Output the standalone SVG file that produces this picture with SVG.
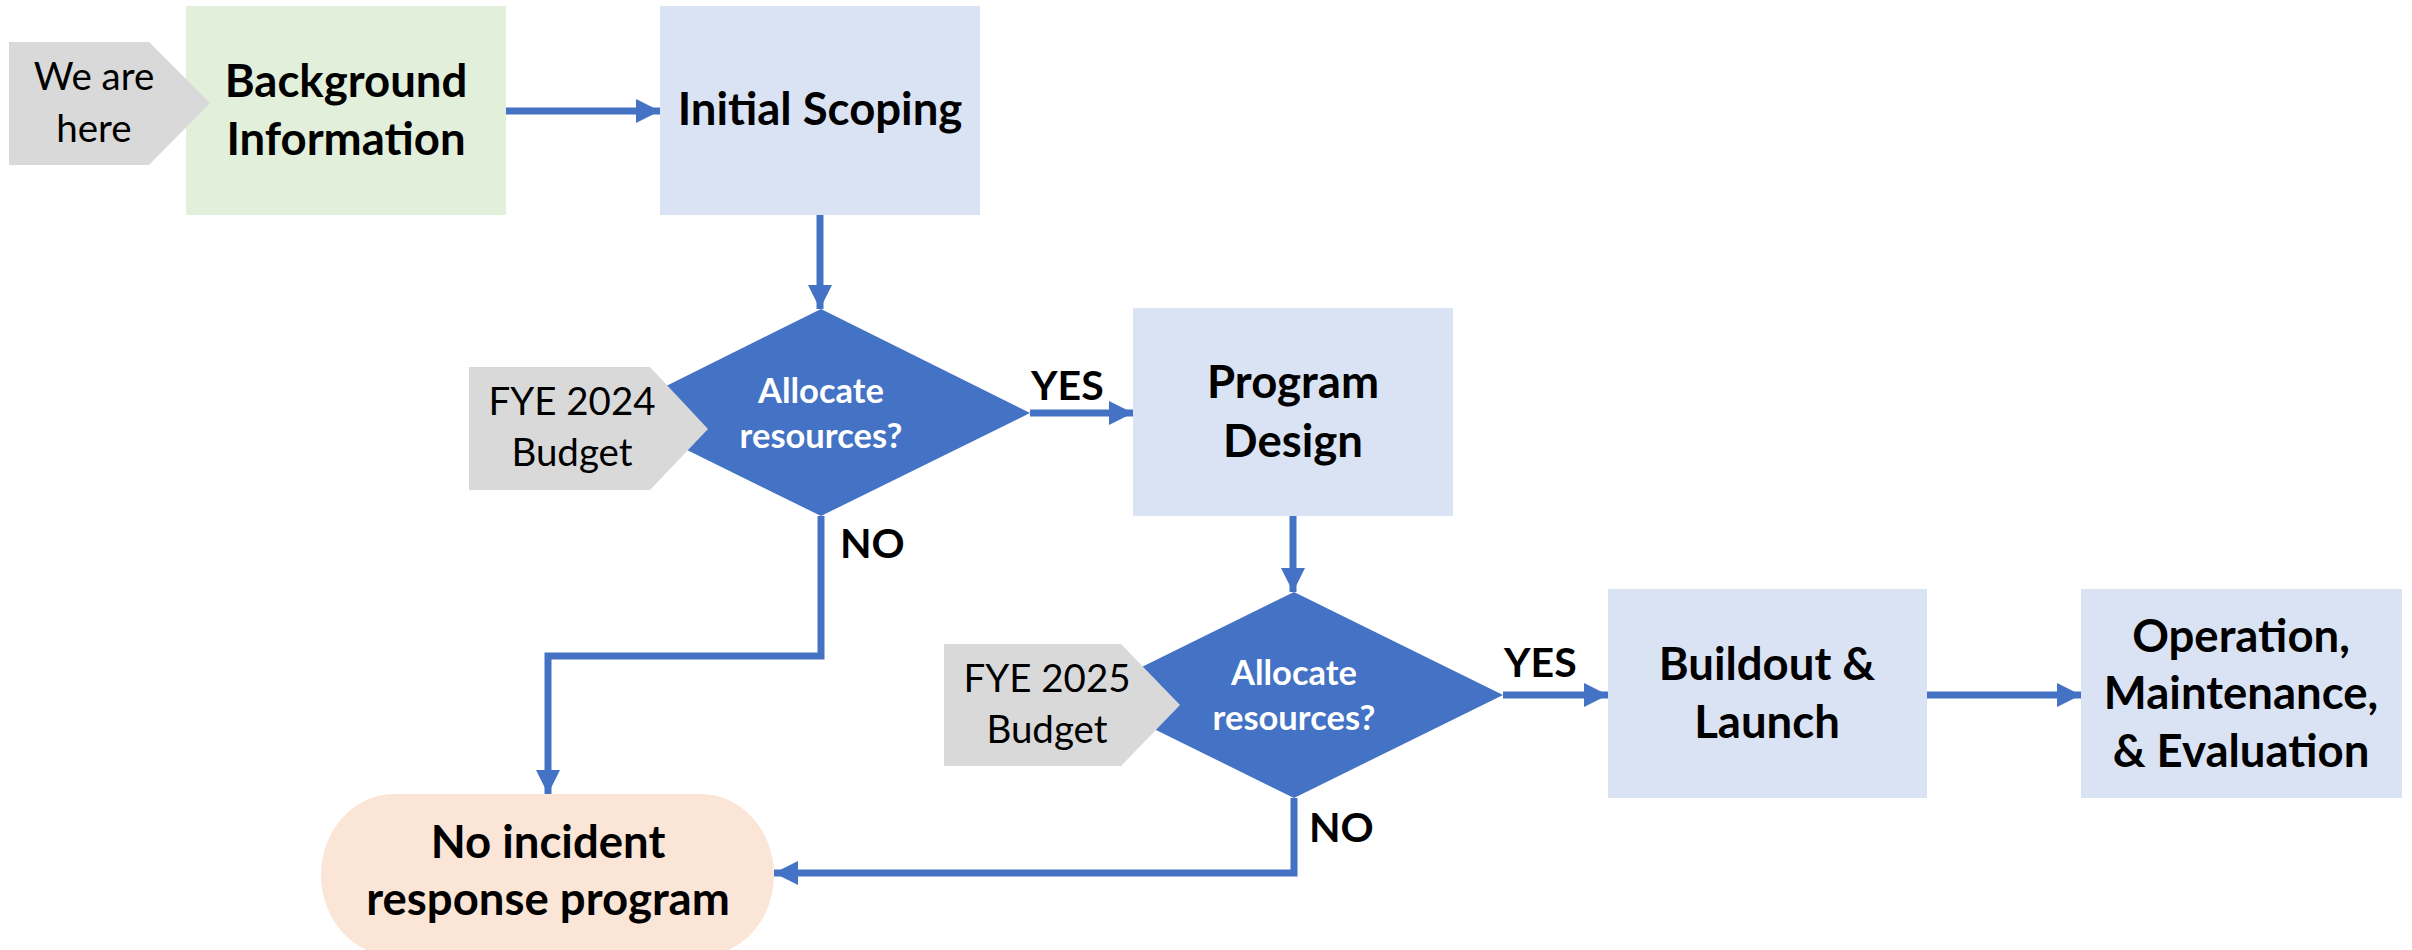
<svg xmlns="http://www.w3.org/2000/svg" width="2412" height="950" viewBox="0 0 2412 950">
<defs>
<style>
.t{font-family:Lato,"Liberation Sans",sans-serif;text-anchor:middle;}
.b{font-weight:bold;font-size:45.5px;fill:#000;}
.g{font-size:38.5px;fill:#000;}
.d{font-weight:bold;font-size:34.5px;fill:#fff;}
.lbl{font-weight:bold;font-size:41px;fill:#000;font-family:Lato,"Liberation Sans",sans-serif;}
.c{fill:none;stroke:#4472C4;stroke-width:7;marker-end:url(#ah);}
</style>
<marker id="ah" markerUnits="userSpaceOnUse" markerWidth="24" markerHeight="24" refX="24" refY="12" orient="auto" viewBox="0 0 24 24">
<path d="M0,0 L24,12 L0,24 z" fill="#4472C4"/>
</marker>
</defs>
<rect width="2412" height="950" fill="#fff"/>

<g id="background">
<rect x="186" y="6" width="320" height="209" fill="#E2EFDA"/>
<text class="t b" x="346" y="97">Background</text>
<text class="t b" x="346" y="155">Information</text>
</g>
<g id="we-are-here">
<polygon points="9,42 149,42 210,103 149,165 9,165" fill="#D9D9D9"/>
<text class="t g" x="94" y="90">We are</text>
<text class="t g" x="94" y="142">here</text>
</g>
<g id="initial-scoping">
<rect x="660" y="6" width="320" height="209" fill="#DAE3F3"/>
<text class="t b" x="820" y="125">Initial Scoping</text>
</g>
<g id="decision1">
<polygon points="821,309 1030,413 821,516 612,413" fill="#4472C4"/>
<text class="t d" x="821" y="403">Allocate</text>
<text class="t d" x="821" y="448">resources?</text>
</g>
<g id="fye2024">
<polygon points="469,367 650,367 708,429 650,490 469,490" fill="#D9D9D9"/>
<text class="t g" x="572" y="415">FYE 2024</text>
<text class="t g" x="572" y="466">Budget</text>
</g>
<g id="program-design">
<rect x="1133" y="308" width="320" height="208" fill="#DAE3F3"/>
<text class="t b" x="1293" y="398">Program</text>
<text class="t b" x="1293" y="457">Design</text>
</g>
<g id="decision2">
<polygon points="1294,592 1503,695 1294,798 1085,695" fill="#4472C4"/>
<text class="t d" x="1294" y="685">Allocate</text>
<text class="t d" x="1294" y="730">resources?</text>
</g>
<g id="fye2025">
<polygon points="944,644 1121,644 1180,705 1121,766 944,766" fill="#D9D9D9"/>
<text class="t g" x="1047" y="692">FYE 2025</text>
<text class="t g" x="1047" y="743">Budget</text>
</g>
<g id="buildout">
<rect x="1608" y="589" width="319" height="209" fill="#DAE3F3"/>
<text class="t b" x="1767" y="680">Buildout &amp;</text>
<text class="t b" x="1767" y="738">Launch</text>
</g>
<g id="operation">
<rect x="2081" y="589" width="321" height="209" fill="#DAE3F3"/>
<text class="t b" x="2241" y="652">Operation,</text>
<text class="t b" x="2241" y="709">Maintenance,</text>
<text class="t b" x="2241" y="767">&amp; Evaluation</text>
</g>
<g id="no-program">
<rect x="321" y="794" width="453" height="162" rx="73" ry="81" fill="#FBE5D6"/>
<text class="t b" x="548" y="858">No incident</text>
<text class="t b" x="548" y="915">response program</text>
</g>

<g id="connectors">
<path class="c" d="M506,111 H660"/>
<path class="c" d="M820,215 V309"/>
<path class="c" d="M1030,413 H1133"/>
<path class="c" d="M821,516 V656 H548 V794"/>
<path class="c" d="M1293,516 V592"/>
<path class="c" d="M1503,695 H1608"/>
<path class="c" d="M1294,798 V873 H774"/>
<path class="c" d="M1927,695 H2081"/>
<text class="lbl" x="1031" y="400">YES</text>
<text class="lbl" x="840" y="558">NO</text>
<text class="lbl" x="1504" y="677">YES</text>
<text class="lbl" x="1309" y="842">NO</text>
</g>
</svg>
